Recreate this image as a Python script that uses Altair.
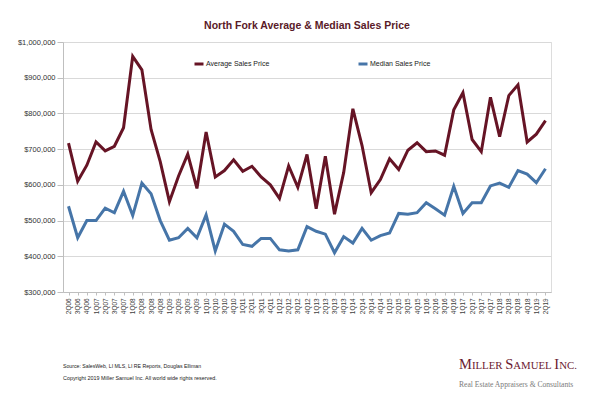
import altair as alt
import pandas as pd

quarters = [
    "2Q06", "3Q06", "4Q06",
    "1Q07", "2Q07", "3Q07", "4Q07",
    "1Q08", "2Q08", "3Q08", "4Q08",
    "1Q09", "2Q09", "3Q09", "4Q09",
    "1Q10", "2Q10", "3Q10", "4Q10",
    "1Q11", "2Q11", "3Q11", "4Q11",
    "1Q12", "2Q12", "3Q12", "4Q12",
    "1Q13", "2Q13", "3Q13", "4Q13",
    "1Q14", "2Q14", "3Q14", "4Q14",
    "1Q15", "2Q15", "3Q15", "4Q15",
    "1Q16", "2Q16", "3Q16", "4Q16",
    "1Q17", "2Q17", "3Q17", "4Q17",
    "1Q18", "2Q18", "3Q18", "4Q18",
    "1Q19", "2Q19",
]

avg_price = [
    717000, 610000, 655000,
    720000, 695000, 708000, 760000,
    960000, 922000, 755000, 665000,
    553000, 625000, 686000, 590000,
    748000, 622000, 640000, 670000,
    638000, 652000, 622000, 600000,
    562000, 653000, 593000, 685000,
    533000, 680000, 518000, 635000,
    813000, 710000, 578000, 615000,
    673000, 643000, 697000, 718000,
    693000, 695000, 683000, 810000,
    858000, 727000, 693000, 845000,
    735000, 850000, 880000, 720000,
    742000, 780000,
]

median_price = [
    540000, 452000, 500000,
    500000, 535000, 522000, 582000,
    514000, 605000, 575000, 500000,
    445000, 452000, 478000, 452000,
    516000, 415000, 490000, 470000,
    433000, 428000, 450000, 450000,
    418000, 415000, 418000, 483000,
    470000, 462000, 410000, 455000,
    437000, 478000, 445000, 458000,
    465000, 520000, 518000, 522000,
    550000, 533000, 515000, 596000,
    520000, 550000, 550000, 597000,
    605000, 593000, 640000, 630000,
    606000, 645000,
]

series_names = ["Average Sales Price", "Median Sales Price"]
series_colors = ["#661425", "#4675a8"]
y_ticks = [300000, 400000, 500000, 600000, 700000, 800000, 900000, 1000000]

title_text = "North Fork Average & Median Sales Price"
source_text = "Source: SalesWeb, LI MLS, LI RE Reports, Douglas Elliman"
copyright_text = "Copyright 2019 Miller Samuel Inc.  All world wide rights reserved."
tagline_text = "Real Estate Appraisers & Consultants"

rows = []
for q, a, m in zip(quarters, avg_price, median_price):
    rows.append({"Quarter": q, "Series": series_names[0], "Price": a})
    rows.append({"Quarter": q, "Series": series_names[1], "Price": m})
df = pd.DataFrame(rows)

FONT = "Liberation Sans"
SERIF = "Liberation Serif"
W, H = 488, 250

lines = alt.Chart(df).mark_line(strokeWidth=3).encode(
    x=alt.X(
        "Quarter:N",
        sort=quarters,
        scale=alt.Scale(type="point", padding=0.6),
        axis=alt.Axis(
            title=None, labelAngle=270, labelFontSize=6.4, labelColor="#404040",
            labelPadding=3, tickSize=3, tickColor="#bfbfbf", domainColor="#bfbfbf",
            grid=False, labelFont=FONT,
        ),
    ),
    y=alt.Y(
        "Price:Q",
        scale=alt.Scale(domain=[300000, 1000000], nice=False, zero=False),
        axis=alt.Axis(
            title=None, values=y_ticks, format="$,.0f", labelFontSize=7.5,
            labelColor="#333333", labelFont=FONT, labelPadding=2, tickSize=6,
            tickColor="#bfbfbf", domainColor="#bfbfbf", gridColor="#d9d9d9",
        ),
    ),
    color=alt.Color(
        "Series:N",
        scale=alt.Scale(domain=series_names, range=series_colors),
        legend=alt.Legend(
            title=None, orient="none", direction="horizontal", legendX=130, legendY=16,
            symbolType="stroke", symbolStrokeWidth=3, symbolSize=81, labelOffset=1,
            labelFontSize=7, labelFont=FONT, labelColor="#222222", columnPadding=82,
            padding=0,
        ),
    ),
    detail="Series:N",
)

annot = alt.Chart(pd.DataFrame({"a": [0]}))

def txt(text, x, y, size, color, font=FONT, **kw):
    return annot.mark_text(
        text=text, align="left", baseline="alphabetic", fontSize=size, color=color,
        font=font, **kw
    ).encode(x=alt.value(x), y=alt.value(y))

layers = [lines]
layers.append(txt(source_text, 0, 326, 5.2, "#222222"))
layers.append(txt(copyright_text, 0, 338, 5.4, "#222222"))

# small-caps logo built from segments
big, small = 14.5, 10.8
adv = {"M": .889, "I": .333, "L": .611, "E": .611, "R": .667, "S": .556, "A": .722,
       "U": .722, "N": .722, "C": .667, ".": .25, " ": .25}
segments = [("M", big), ("ILLER ", small), ("S", big), ("AMUEL ", small), ("I", big), ("NC.", small)]
lx = 396
for seg, size in segments:
    layers.append(txt(seg, lx, 327, size, "#6b2030", font=SERIF))
    lx += sum(adv[c] for c in seg) * size
layers.append(txt(tagline_text, 396, 345, 7.6, "#7a7a7a", font=SERIF))

chart = alt.layer(*layers).properties(
    width=W,
    height=H,
    autosize=alt.AutoSizeParams(type="none"),
    padding={"left": 55, "top": 34, "right": 41, "bottom": 97},
    title=alt.TitleParams(
        title_text, fontSize=10.5, fontWeight="bold", color="#5a1a28", font=FONT,
        anchor="middle", offset=7,
    ),
).configure_view(stroke=None).configure(background="white")

chart.save("out.html", embed_options={"renderer": "svg", "actions": False})
